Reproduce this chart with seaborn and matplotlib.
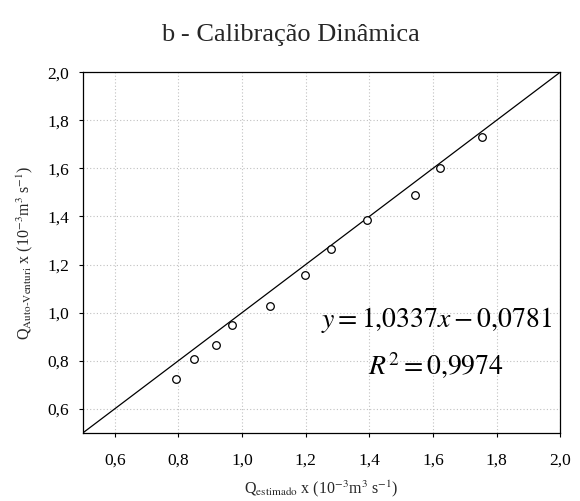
import matplotlib
matplotlib.use("Agg")
import matplotlib.pyplot as plt
import seaborn as sns
import pandas as pd
from matplotlib.ticker import FuncFormatter

q_estimado = [0.794, 0.848, 0.919, 0.967, 1.089, 1.199, 1.280, 1.394, 1.542, 1.621, 1.754]
q_auto_venturi = [0.724, 0.808, 0.866, 0.947, 1.028, 1.157, 1.263, 1.386, 1.491, 1.603, 1.731]
ticks = [0.6, 0.8, 1.0, 1.2, 1.4, 1.6, 1.8, 2.0]
title = "b - Calibração Dinâmica"
equation = r"$y=1{,}0337x-0{,}0781$"
r2_text = r"$R^2=0{,}9974$"

sns.set_theme(style="white")
plt.rcParams['font.family'] = ['Liberation Serif', 'DejaVu Serif']
plt.rcParams['mathtext.fontset'] = 'stix'

df = pd.DataFrame({"x": q_estimado, "y": q_auto_venturi})

fig = plt.figure(figsize=(5.8, 5.01), dpi=100)
ax = fig.add_axes([0.143, 0.136, 0.823, 0.720])

ax.set_xlim(0.5, 2.0)
ax.set_ylim(0.5, 2.0)
ax.axline((0.5, 0.5), slope=1, color="black", lw=0.9, zorder=2)
sns.scatterplot(data=df, x="x", y="y", ax=ax, marker="o", s=30,
                facecolor="white", edgecolor="black", linewidth=0.9, zorder=3)

fmt = FuncFormatter(lambda v, p: f"{v:.1f}".replace(".", ","))
ax.set_xticks(ticks)
ax.set_yticks(ticks)
ax.xaxis.set_major_formatter(fmt)
ax.yaxis.set_major_formatter(fmt)
ax.tick_params(axis="both", direction="out", length=3, width=0.8, labelsize=12.5,
               colors="black", bottom=True, left=True)
ax.tick_params(axis="x", pad=11)
ax.tick_params(axis="y", pad=7)
ax.grid(True, color="#c0c0c0", linestyle=(0, (1, 2)), linewidth=0.8)
for s in ax.spines.values():
    s.set_color("black")
    s.set_linewidth(0.9)

ax.set_xlabel(r"Q$_{\mathrm{estimado}}$ x (10$^{-3}$m$^3$ s$^{-1}$)", fontsize=11.5, labelpad=7)
ax.set_ylabel(r"Q$_{\text{Auto-Venturi}}$ x (10$^{-3}$m$^3$ s$^{-1}$)", fontsize=11.5, labelpad=9)
fig.suptitle(title, fontsize=19, y=0.952)

ax.text(1.61, 0.97, equation, fontsize=20, ha="center", va="center", color="black")
ax.text(1.61, 0.78, r2_text, fontsize=20, ha="center", va="center", color="black")

fig.savefig("out.png", dpi=100)
